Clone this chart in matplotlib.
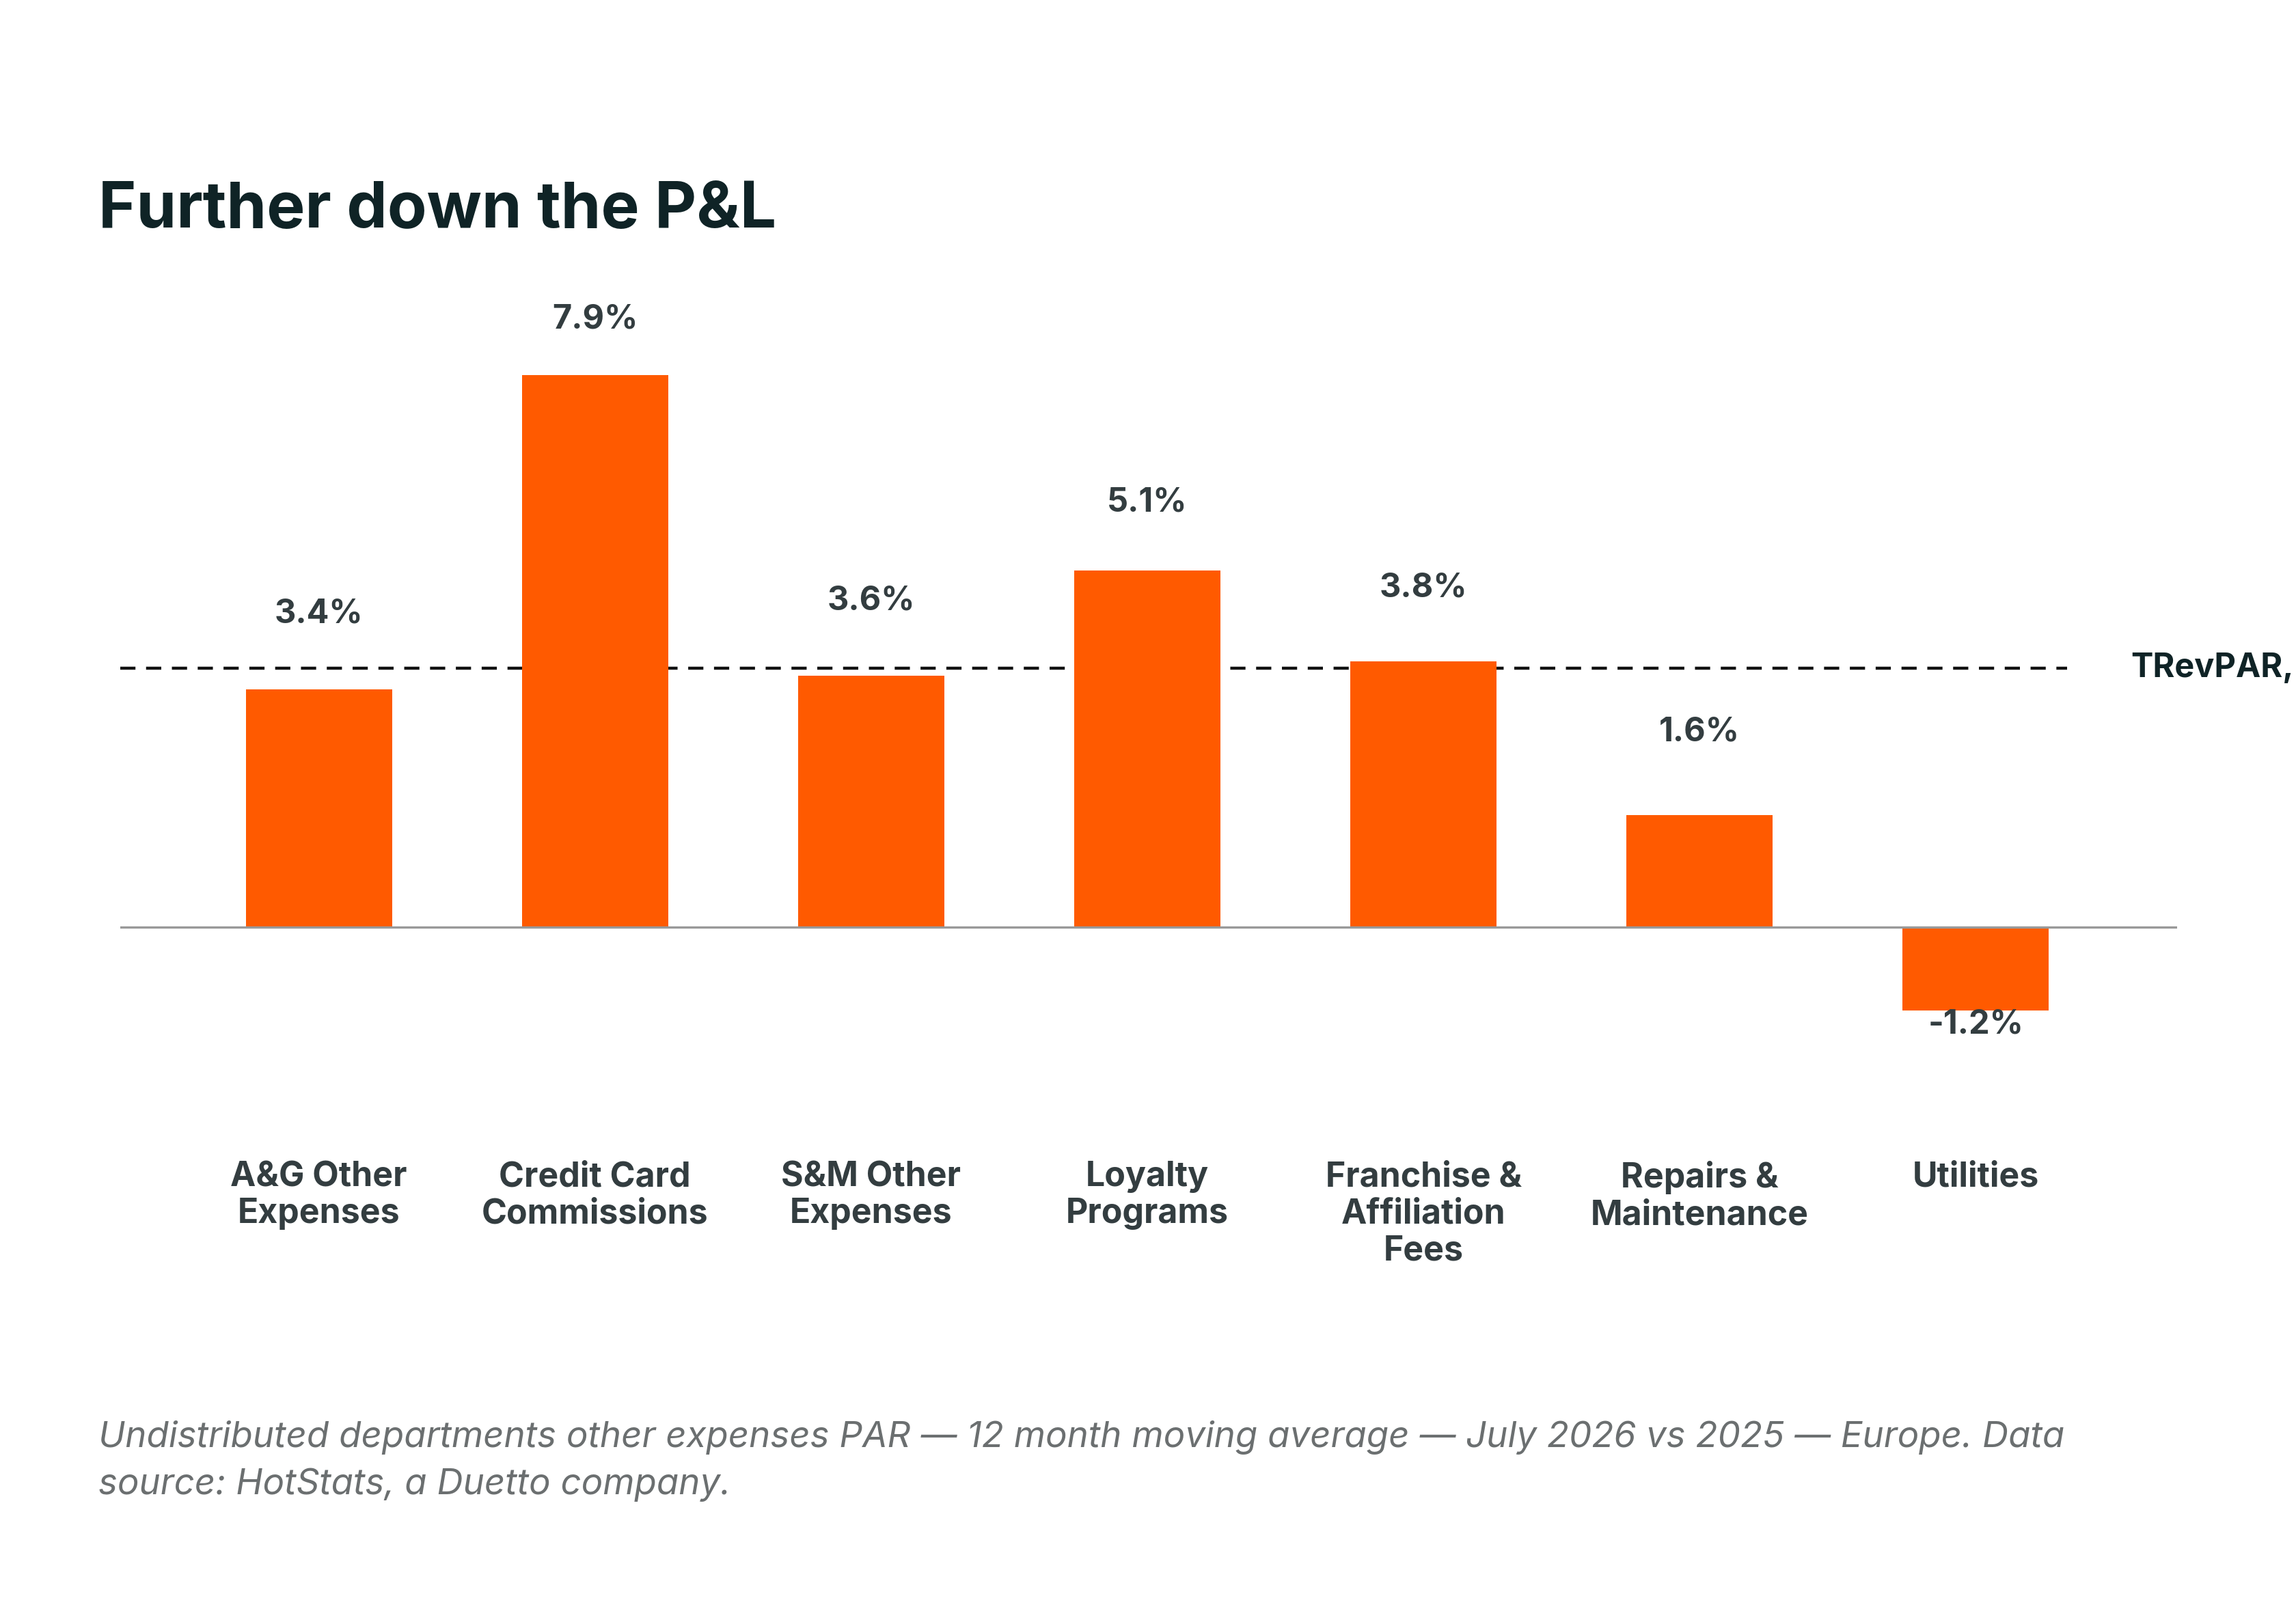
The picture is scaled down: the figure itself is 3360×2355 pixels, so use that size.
import matplotlib
matplotlib.use("Agg")
import matplotlib.pyplot as plt

categories = ["A&G Other\nExpenses", "Credit Card\nCommissions", "S&M Other\nExpenses",
              "Loyalty\nPrograms", "Franchise &\nAffiliation\nFees", "Repairs &\nMaintenance", "Utilities"]
values = [3.4, 7.9, 3.6, 5.1, 3.8, 1.6, -1.2]
trevpar = 3.7

plt.rcParams['font.family'] = ['Inter', 'DejaVu Sans']
fig = plt.figure(figsize=(16.8, 11.775), dpi=200)
ax = fig.add_axes([0.0523, 0.3176, 0.8960, 0.5004])
x = list(range(len(values)))
ax.bar(x, values, width=0.53, color="#FF5A00", zorder=2)
ax.axhline(0, color="#999999", lw=1.2, zorder=3)
ax.plot([-0.72, 6.33], [trevpar, trevpar], color="#111111", lw=1.6, ls=(0, (5, 3.5)), zorder=1)
ax.set_xlim(-0.72, 6.73)
ax.set_ylim(-2.45, 9.08)
for xi, v in zip(x, values):
    if v >= 0:
        ax.text(xi, 0.938 * v + 1.29, f"{v:.1f}%", ha="center", va="center", fontsize=17.5,
                fontweight="bold", color="#333d40")
    else:
        ax.text(xi, v - 0.2, f"{v:.1f}%", ha="center", va="center", fontsize=17.5,
                fontweight="bold", color="#333d40")
ax.axis("off")
ax.text(0.9775, trevpar, "TRevPAR,", transform=ax.get_yaxis_transform(),
        ha="left", va="center", fontsize=17.5, fontweight="bold", color="#0F2326", clip_on=False)
for xi, c in zip(x, categories):
    ax.text(xi, -3.35, c, ha="center", va="top", fontsize=18, fontweight="bold",
            color="#333d40", linespacing=1.2)
fig.text(0.043, 0.869, "Further down the P&L", fontsize=34, fontweight="bold",
         color="#0F2326", va="center")
fig.text(0.043, 0.092, "Undistributed departments other expenses PAR — 12 month moving average — July 2026 vs 2025 — Europe. Data\nsource: HotStats, a Duetto company.",
         fontsize=19, style="italic", color="#6b6f70", va="center", linespacing=1.5)
fig.savefig("out.png", dpi=200)
